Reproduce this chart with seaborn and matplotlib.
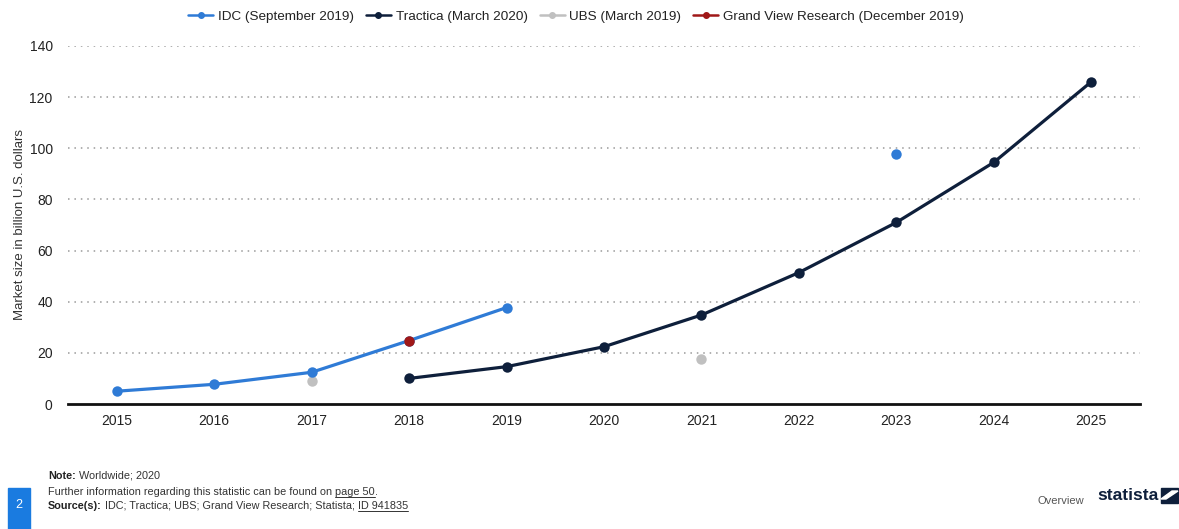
import matplotlib
matplotlib.use("Agg")
import matplotlib.pyplot as plt
import matplotlib.patches as mpatches
from matplotlib.lines import Line2D
import numpy as np
import pandas as pd
import seaborn as sns

# ---- data (billion U.S. dollars) ----
year_ticks = [2015, 2016, 2017, 2018, 2019, 2020, 2021, 2022, 2023, 2024, 2025]

idc_years = [2015, 2016, 2017, 2018, 2019]
idc_values = [5.0, 7.7, 12.4, 24.8, 37.7]
idc_extra_years = [2023]
idc_extra_values = [97.9]

tractica_years = [2018, 2019, 2020, 2021, 2022, 2023, 2024, 2025]
tractica_values = [10.0, 14.6, 22.4, 34.8, 51.4, 71.0, 94.5, 126.0]

ubs_years = [2017, 2021]
ubs_values = [9.0, 17.5]

gvr_years = [2018]
gvr_values = [24.8]

series_labels = ["IDC (September 2019)", "Tractica (March 2020)",
                 "UBS (March 2019)", "Grand View Research (December 2019)"]
series_colors = ["#2f7bd6", "#0e1f3b", "#c0c0c0", "#a01818"]

sns.set_theme(style="white")
plt.rcParams["font.family"] = ["Liberation Sans", "DejaVu Sans"]

W, H = 1179, 529
fig = plt.figure(figsize=(W / 100, H / 100), dpi=100)
ax = fig.add_axes([68 / W, 1 - 404 / H, 1072 / W, 358 / H])

ms = 7.5
lw = 2.3

idc_df = pd.DataFrame({"year": idc_years, "value": idc_values})
sns.lineplot(data=idc_df, x="year", y="value", ax=ax, color=series_colors[0],
             linewidth=lw, marker="o", markersize=ms, markeredgewidth=0, zorder=3)
sns.scatterplot(x=idc_extra_years, y=idc_extra_values, ax=ax, color=series_colors[0],
                s=ms ** 2, linewidth=0, zorder=3)

tr_df = pd.DataFrame({"year": tractica_years, "value": tractica_values})
sns.lineplot(data=tr_df, x="year", y="value", ax=ax, color=series_colors[1],
             linewidth=lw, marker="o", markersize=ms, markeredgewidth=0, zorder=3)

sns.scatterplot(x=ubs_years, y=ubs_values, ax=ax, color=series_colors[2],
                s=ms ** 2, linewidth=0, zorder=2)
sns.scatterplot(x=gvr_years, y=gvr_values, ax=ax, color=series_colors[3],
                s=ms ** 2, linewidth=0, zorder=4)

ax.set_xlim(2014.5, 2025.5)
ax.set_ylim(0, 140)
ax.set_xticks(year_ticks)
ax.set_xticklabels([str(y) for y in year_ticks])
ax.set_yticks(np.arange(0, 141, 20))
ax.tick_params(axis="both", labelsize=10, colors="#222222", length=0)
ax.tick_params(axis="x", pad=7)
ax.tick_params(axis="y", pad=11)
ax.set_xlabel("")
ax.set_ylabel("Market size in billion U.S. dollars", fontsize=9.5, color="#333333")
ax.yaxis.set_label_coords((26 - 68) / 1072, 0.5)

for v in np.arange(20, 141, 20):
    ax.axhline(v, color="#9a9a9a", linewidth=1.1, linestyle=(0, (1, 3.2)), zorder=0)

for side in ["top", "right", "left"]:
    ax.spines[side].set_visible(False)
ax.spines["bottom"].set_color("#111111")
ax.spines["bottom"].set_linewidth(2)

handles = [Line2D([0], [0], color=c, linewidth=1.8, marker="o", markersize=4)
           for c in series_colors]
fig.legend(handles, series_labels, loc="center", bbox_to_anchor=(576 / W, 1 - 17 / H),
           ncol=4, frameon=False, fontsize=9.7, handlelength=1.85, handletextpad=0.35,
           columnspacing=0.9, labelcolor="#222222")

# ---- footer ----
renderer = fig.canvas.get_renderer()


def text_run(x_px, y_px, parts, size=7.8):
    """Place consecutive text pieces on one baseline; parts = (text, bold, underline)."""
    x = x_px
    for txt, bold, underline in parts:
        t = fig.text(x / W, 1 - y_px / H, txt, fontsize=size,
                     fontweight="bold" if bold else "normal",
                     color="#222222" if bold else "#333333", va="baseline")
        bb = t.get_window_extent(renderer)
        if underline:
            fig.add_artist(Line2D([bb.x0 / W, bb.x1 / W],
                                  [1 - (y_px + 2) / H, 1 - (y_px + 2) / H],
                                  color="#333333", linewidth=0.7))
        x = bb.x1


text_run(48, 479, [("Note:", True, False), (" Worldwide; 2020", False, False)])
text_run(48, 495, [("Further information regarding this statistic can be found on ",
                    False, False), ("page 50", False, True), (".", False, False)])
text_run(48, 509, [("Source(s):", True, False),
                   (" IDC; Tractica; UBS; Grand View Research; Statista; ", False, False),
                   ("ID 941835", False, True)])

fig.add_artist(mpatches.Rectangle((8 / W, 0), 22 / W, 41 / H,
                                  transform=fig.transFigure, color="#1a7be0"))
fig.text(19 / W, 1 - 505 / H, "2", fontsize=9, color="white",
         ha="center", va="center")

fig.text(1084 / W, 1 - 501 / H, "Overview", fontsize=8, color="#555555",
         ha="right", va="center")
fig.text(1097 / W, 1 - 496 / H, "statista", fontsize=12.5, fontweight="bold",
         color="#0e1f3b", ha="left", va="center")
fig.add_artist(mpatches.Polygon(
    [(1161 / W, 1 - 488 / H), (1178 / W, 1 - 488 / H),
     (1178 / W, 1 - 503 / H), (1161 / W, 1 - 503 / H)],
    closed=True, transform=fig.transFigure, color="#0e1f3b"))
fig.add_artist(mpatches.Polygon(
    [(1161 / W, 1 - 499 / H), (1172 / W, 1 - 491 / H),
     (1178 / W, 1 - 491 / H), (1166 / W, 1 - 499 / H)],
    closed=True, transform=fig.transFigure, color="white"))

fig.savefig("out.png", dpi=100, facecolor="white")
